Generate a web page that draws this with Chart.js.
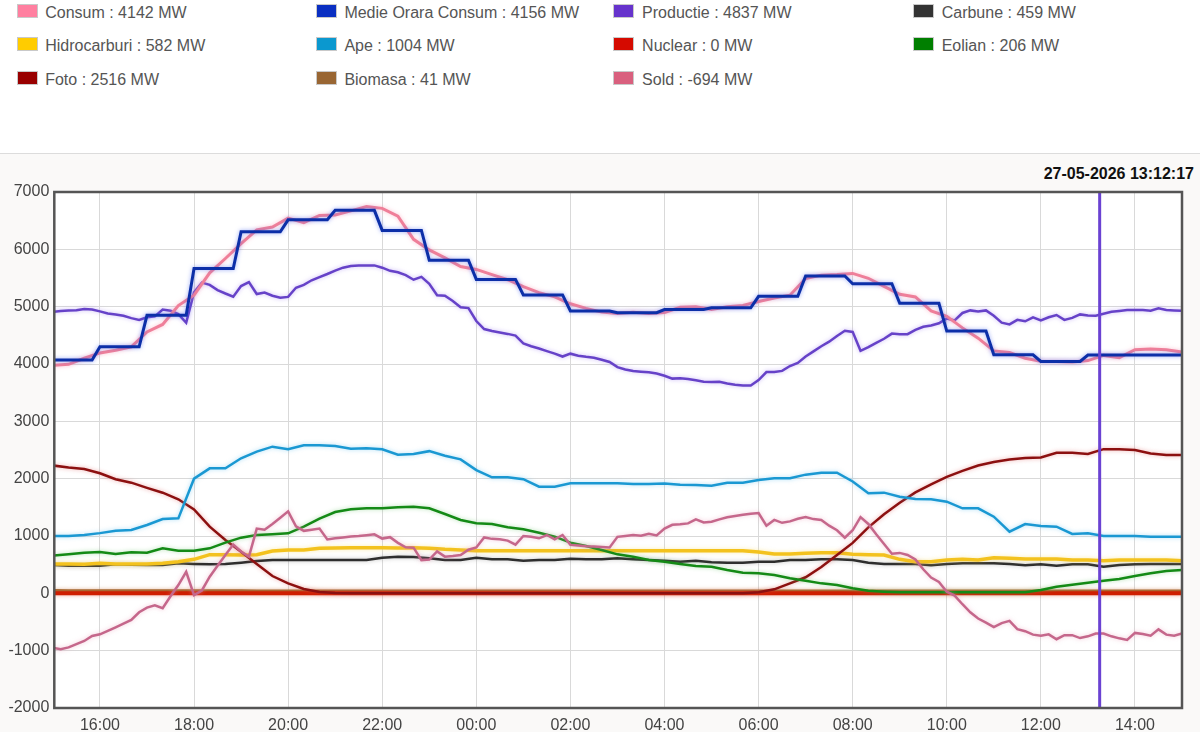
<!DOCTYPE html>
<html>
<head>
<meta charset="utf-8">
<script src="https://cdn.jsdelivr.net/npm/chart.js@4.4.1/dist/chart.umd.min.js"></script>
<style>
html,body{margin:0;padding:0;background:#fff;}
body{width:1200px;height:732px;position:relative;overflow:hidden;font-family:'Liberation Sans',Arial,sans-serif;}
#legend{position:absolute;left:0;top:0;width:1200px;height:110px;}
.box{position:absolute;width:19px;height:12px;border:1px solid #c9c9c9;}
.lbl{position:absolute;font-size:16px;line-height:18px;color:#555;white-space:nowrap;}
#sep{position:absolute;left:0;top:153px;width:1200px;height:1px;background:#dcdcdc;}
#lower{position:absolute;left:0;top:154px;width:1200px;height:578px;background:#faf9f8;}
#stamp{position:absolute;right:6px;top:165px;font-weight:bold;font-size:16px;line-height:18px;color:#111;}
#wrap{position:absolute;left:0;top:160px;width:1200px;height:572px;}
</style>
</head>
<body>
<div id="legend"></div>
<div id="sep"></div>
<div id="lower"></div>
<div id="stamp"></div>
<div id="wrap"><canvas id="c" width="1200" height="572"></canvas></div>
<script>
// ---------- DATA ----------
const timestampText = '27-05-2026 13:12:17';
const nowHour = 37.25;              // position of the current-time marker (13:15)
const xMin = 15.03, xMax = 39.0;    // hours since 00:00 of the first day
const xTickHours  = [16,18,20,22,24,26,28,30,32,34,36,38];
const xTickLabels = ['16:00','18:00','20:00','22:00','00:00','02:00','04:00','06:00','08:00','10:00','12:00','14:00'];

// legend (row-major, 4 columns)
const legendNames  = ['Consum','Medie Orara Consum','Productie','Carbune','Hidrocarburi','Ape','Nuclear','Eolian','Foto','Biomasa','Sold'];
const legendValues = [4142, 4156, 4837, 459, 582, 1004, 0, 206, 2516, 41, -694];
const legendColors = ['#ff7fa0','#0a2fc2','#6633cc','#333333','#ffcc00','#0b98cf','#d50a00','#007f00','#990000','#996633','#d9607e'];

// sampling grids
const start20 = 15, step20 = 1/3, n20 = 73;   // 20-minute samples
const start10 = 15, step10 = 1/6, n10 = 145;  // 10-minute samples
const medieStartHour = 15;

const medieHourly = [4070,4300,4850,5665,6305,6515,6680,6330,5810,5475,5205,4925,4895,4950,4980,5180,5535,5400,5060,4575,4160,4045,4155,4155];

const consum = [3975,3995,4100,4193,4240,4300,4560,4690,5020,5200,
  5590,5840,6100,6340,6390,6545,6465,6590,6600,6670,
  6745,6715,6580,6175,5990,5850,5700,5650,5560,5470,
  5350,5245,5170,5050,4970,4905,4880,4901,4880,4900,
  4990,5000,4950,5000,5020,5090,5150,5200,5490,5550,
  5560,5580,5495,5355,5215,5170,4925,4830,4630,4450,
  4228,4200,4100,4050,4045,4035,4060,4150,4110,4250,
  4260,4250,4211];

const productie = [4910,4925,4935,4938,4960,4950,4918,4880,4865,4840,
  4800,4770,4815,4830,4950,4930,4870,4720,5250,5420,
  5380,5290,5230,5175,5360,5430,5220,5245,5190,5155,
  5170,5330,5380,5460,5515,5570,5630,5680,5710,5720,
  5720,5720,5680,5625,5600,5550,5470,5520,5400,5200,
  5190,5100,4990,4975,4750,4610,4575,4550,4525,4495,
  4360,4310,4270,4225,4180,4130,4180,4145,4125,4110,
  4075,4035,3945,3905,3877,3865,3855,3835,3795,3745,
  3752,3740,3715,3690,3685,3690,3660,3640,3626,3626,
  3720,3860,3860,3880,3965,4020,4130,4220,4310,4390,
  4490,4580,4560,4230,4295,4370,4440,4530,4520,4520,
  4595,4650,4672,4710,4795,4760,4890,4935,4915,4935,
  4840,4720,4690,4770,4745,4815,4760,4815,4854,4770,
  4805,4865,4845,4842,4875,4910,4925,4942,4942,4940,
  4930,4970,4942,4935,4930];

const sold = [-950,-975,-942,-885,-831,-745,-715,-655,-593,-530,
  -465,-330,-250,-210,-260,-50,145,375,-30,50,
  290,480,670,850,730,640,1130,1110,1210,1320,
  1430,1170,1090,1110,1130,940,960,975,990,1000,
  1015,1030,955,980,880,803,797,580,590,730,
  640,650,669,760,800,975,950,942,920,850,
  1000,985,960,1017,942,1017,845,835,822,816,
  810,800,985,1000,1017,1005,1040,1010,1130,1195,
  1205,1220,1290,1235,1248,1290,1328,1350,1370,1390,
  1400,1180,1280,1230,1255,1300,1330,1295,1280,1180,
  1100,970,1100,1330,1210,1030,860,690,705,670,
  590,420,275,200,29,-40,-190,-330,-440,-510,
  -590,-520,-480,-625,-660,-720,-740,-715,-800,-730,
  -730,-780,-750,-700,-700,-750,-785,-814,-690,-710,
  -740,-628,-720,-740,-698];

const ape = [1000,1000,1017,1050,1093,1105,1192,1297,1308,2000,
  2180,2180,2355,2471,2558,2512,2581,2581,2570,2523,
  2529,2512,2419,2430,2480,2400,2337,2150,2023,2023,
  1990,1860,1860,1919,1919,1919,1919,1907,1907,1915,
  1895,1890,1878,1930,1930,1977,2006,2006,2070,2105,
  2105,1950,1744,1756,1686,1645,1640,1599,1483,1483,
  1337,1076,1209,1174,1163,1035,1047,1000,1000,1000,
  988,988,988];

const eolian = [657,680,709,721,686,715,709,785,744,744,
  785,884,971,1017,1029,1047,1163,1302,1419,1465,
  1483,1483,1500,1512,1483,1384,1279,1221,1209,1151,
  1116,1058,988,884,826,756,680,640,581,552,
  512,477,465,407,360,349,320,262,221,174,
  145,87,47,29,17,17,17,17,17,17,
  17,17,17,58,116,151,186,221,250,302,
  349,390,407];

const foto = [2230,2195,2170,2095,1990,1930,1840,1755,1640,1465,
  1163,930,727,512,302,174,76,23,5,0,
  0,0,0,0,0,0,0,0,0,0,
  0,0,0,0,0,0,0,0,0,0,
  0,0,0,0,3,20,70,174,280,460,
  670,880,1150,1380,1580,1760,1900,2030,2135,2230,
  2290,2335,2360,2370,2450,2450,2430,2515,2512,2500,
  2440,2413,2413];

const hidrocarburi = [512,512,506,523,512,512,512,523,552,593,
  674,674,669,674,738,756,756,785,791,797,
  797,797,791,797,785,767,756,744,744,744,
  744,744,744,744,744,744,744,744,744,744,
  744,744,744,744,744,720,686,686,698,709,
  709,680,674,669,593,552,552,581,593,581,
  622,610,600,600,600,581,581,570,581,581,
  581,581,570];

const carbune = [494,483,483,483,506,500,494,494,523,512,
  506,512,535,564,581,581,581,581,581,581,
  581,622,640,634,610,581,581,622,593,593,
  570,581,581,605,593,593,610,593,581,570,
  552,570,541,535,535,552,552,581,581,593,
  593,581,535,512,512,512,488,512,523,523,
  523,512,488,506,483,506,506,465,494,506,
  512,512,512];

const nuclear = [0,0,0,0,0,0,0,0,0,0,
  0,0,0,0,0,0,0,0,0,0,
  0,0,0,0,0,0,0,0,0,0,
  0,0,0,0,0,0,0,0,0,0,
  0,0,0,0,0,0,0,0,0,0,
  0,0,0,0,0,0,0,0,0,0,
  0,0,0,0,0,0,0,0,0,0,
  0,0,0];

const biomasa = [48,47,47,46,46,45,45,44,44,44,
  43,43,43,42,42,42,42,42,41,41,
  41,41,40,40,40,40,40,40,40,40,
  40,40,40,40,40,40,40,40,40,40,
  40,40,41,41,41,41,42,42,42,42,
  42,42,42,41,41,41,41,41,41,41,
  41,41,41,41,41,41,41,41,41,41,
  41,41,41];

// ---------- LEGEND ----------
const colBox = [16.5, 315.7, 613.4, 913];
const rowBox = [4, 37.3, 70.7];
const rowText = [4.3, 37, 71];
const legend = document.getElementById('legend');
legendNames.forEach((name, i) => {
  const col = i % 4, row = Math.floor(i / 4);
  const b = document.createElement('div');
  b.className = 'box';
  b.style.left = colBox[col] + 'px';
  b.style.top = rowBox[row] + 'px';
  b.style.background = legendColors[i];
  legend.appendChild(b);
  const t = document.createElement('div');
  t.className = 'lbl';
  t.style.left = (colBox[col] + 28.7) + 'px';
  t.style.top = rowText[row] + 'px';
  t.textContent = name + ' : ' + legendValues[i] + ' MW';
  legend.appendChild(t);
});
document.getElementById('stamp').textContent = timestampText;

// ---------- BUILD SERIES ----------
const times20 = []; for (let i = 0; i < n20; i++) times20.push(start20 + i * step20);
const times10 = []; for (let i = 0; i < n10; i++) times10.push(start10 + i * step10);
const pts = (times, vals) => vals.map((v, i) => ({x: times[i], y: v}));
const mediePts = [];
medieHourly.forEach((v, i) => {
  const h = medieStartHour + i;
  mediePts.push({x: h, y: v});
  mediePts.push({x: (i === medieHourly.length - 1) ? h + 1 : h + 5/6, y: v});
});

function ds(label, data, color, width, glow) {
  return {label, data, borderColor: color, backgroundColor: color, borderWidth: width,
    pointRadius: 0, pointHoverRadius: 0, tension: 0, fill: false, glow};
}

const datasets = [
  ds('Medie Orara Consum', mediePts, '#0c2fa8', 3, 'rgba(70,100,240,0.55)'),
  ds('Consum', pts(times20, consum), '#ef7f99', 3, 'rgba(250,150,175,0.55)'),
  ds('Productie', pts(times10, productie), '#6642c8', 2.5, 'rgba(160,130,240,0.55)'),
  ds('Sold', pts(times10, sold), '#c5678b', 2.5, 'rgba(235,150,180,0.5)'),
  ds('Ape', pts(times20, ape), '#1a98d2', 2.5, 'rgba(90,190,240,0.5)'),
  ds('Eolian', pts(times20, eolian), '#148a16', 2.5, 'rgba(90,190,90,0.45)'),
  ds('Foto', pts(times20, foto), '#8c1010', 2.5, 'rgba(220,80,80,0.45)'),
  ds('Hidrocarburi', pts(times20, hidrocarburi), '#f3c21e', 3.5, 'rgba(250,220,100,0.5)'),
  ds('Carbune', pts(times20, carbune), '#2e2e2e', 2.5, 'rgba(120,120,120,0.45)'),
  ds('Nuclear', pts(times20, nuclear), '#cf1e00', 4, 'rgba(240,90,60,0.5)'),
  ds('Biomasa', pts(times20, biomasa), '#9c6a30', 3, 'rgba(200,150,90,0.45)')
];

const decor = {
  id: 'decor',
  beforeDraw(chart) {
    const {ctx, chartArea: a} = chart;
    ctx.save();
    ctx.fillStyle = '#ffffff';
    ctx.fillRect(a.left, a.top, a.right - a.left, a.bottom - a.top);
    ctx.restore();
  },
  beforeDatasetDraw(chart, args) {
    const d = chart.data.datasets[args.index];
    chart.ctx.save();
    chart.ctx.shadowColor = d.glow;
    chart.ctx.shadowBlur = 4;
  },
  afterDatasetDraw(chart) { chart.ctx.restore(); },
  afterDatasetsDraw(chart) {
    const {ctx, chartArea: a, scales: {x}} = chart;
    const px = x.getPixelForValue(nowHour);
    ctx.save();
    ctx.strokeStyle = '#6a42d2';
    ctx.lineWidth = 3;
    ctx.beginPath(); ctx.moveTo(px, a.top); ctx.lineTo(px, a.bottom); ctx.stroke();
    ctx.strokeStyle = '#555555';
    ctx.lineWidth = 2.5;
    ctx.strokeRect(a.left, a.top, a.right - a.left, a.bottom - a.top);
    ctx.restore();
  }
};

Chart.defaults.font.family = "'Liberation Sans', Arial, sans-serif";
new Chart(document.getElementById('c'), {
  type: 'line',
  data: {datasets},
  plugins: [decor],
  options: {
    responsive: false,
    animation: false,
    events: [],
    layout: {padding: {left: 0, right: 18, top: 32, bottom: 0}},
    plugins: {legend: {display: false}, tooltip: {enabled: false}},
    scales: {
      x: {
        type: 'linear', min: xMin, max: xMax,
        afterBuildTicks: s => { s.ticks = xTickHours.map(v => ({value: v})); },
        afterFit: s => { s.height = 24; },
        grid: {color: '#d9d9d9', lineWidth: 1, drawTicks: false},
        border: {display: false},
        ticks: {padding: 8, color: '#444', font: {size: 16}, maxRotation: 0, autoSkip: false,
          callback: (v, i) => xTickLabels[i]}
      },
      y: {
        min: -2000, max: 7000,
        afterFit: s => { s.width = 54.3; },
        grid: {color: '#d9d9d9', lineWidth: 1, drawTicks: false},
        border: {display: false},
        ticks: {stepSize: 1000, padding: 5, color: '#444', font: {size: 16},
          callback: v => String(v)}
      }
    }
  }
});
</script>
</body>
</html>
